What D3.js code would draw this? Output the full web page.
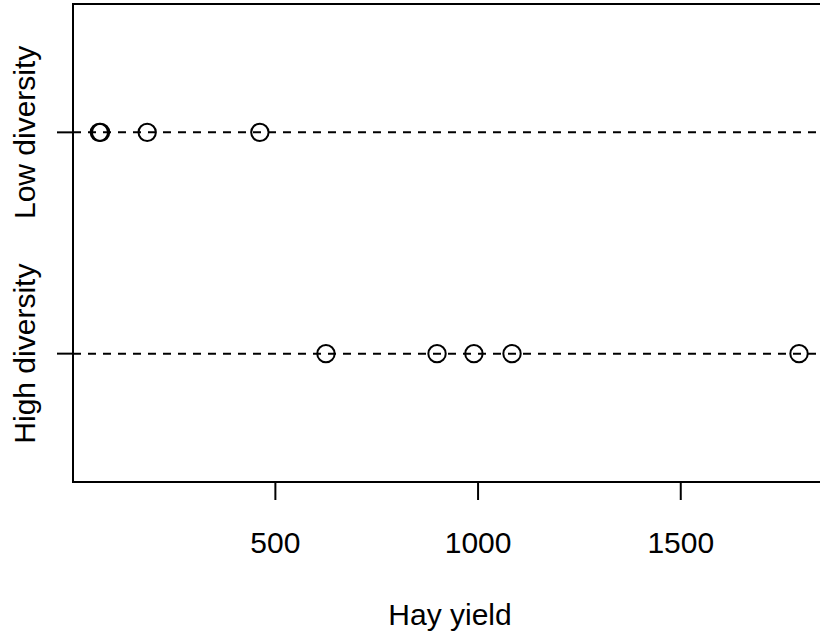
<!DOCTYPE html>
<html>
<head>
<meta charset="utf-8">
<script src="https://cdn.jsdelivr.net/npm/d3@7"></script>
<style>
  body { margin: 0; background: #fff; }
  text { font-family: "Liberation Sans", Arial, sans-serif; fill: #000; }
</style>
</head>
<body>
<div class="canvas"></div>
<script>
// groups, bottom to top
var groups = ['High diversity', 'Low diversity'];
var highYield = [626, 900, 991, 1085, 1793];
var lowYield = [67, 70, 185, 463];
var xTicks = [500, 1000, 1500];
var xLabel = 'Hay yield';

var width = 820;
var height = 640;
// plot region (right edge runs past the window, as in the original)
var plotLeft = 73, plotRight = 827, plotTop = 4, plotBottom = 482;

var svg = d3.select('.canvas')
  .append('svg')
  .attr('width', width)
  .attr('height', height);

var xscale = d3.scaleLinear()
  .domain([2, 1862])
  .range([plotLeft, plotRight]);

// group i sits at i+1, R style 0.5..n+0.5 padded 4%
var yscale = d3.scaleLinear()
  .domain([0.42, 2.58])
  .range([plotBottom, plotTop]);

var rows = [
  { name: groups[0], pos: 1, values: highYield },
  { name: groups[1], pos: 2, values: lowYield }
];

// dashed guide lines across the plot
svg.append('g')
  .selectAll('line')
  .data(rows)
  .enter()
  .append('line')
  .attr('x1', plotLeft)
  .attr('x2', plotRight)
  .attr('y1', function(d) { return yscale(d.pos); })
  .attr('y2', function(d) { return yscale(d.pos); })
  .attr('stroke', '#000')
  .attr('stroke-width', 2)
  .attr('stroke-dasharray', '8,7');

// points
rows.forEach(function(r) {
  svg.append('g')
    .selectAll('circle')
    .data(r.values)
    .enter()
    .append('circle')
    .attr('cx', function(d) { return xscale(d); })
    .attr('cy', yscale(r.pos))
    .attr('r', 8.7)
    .attr('fill', 'none')
    .attr('stroke', '#000')
    .attr('stroke-width', 2);
});

// box
svg.append('rect')
  .attr('x', plotLeft)
  .attr('y', plotTop)
  .attr('width', plotRight - plotLeft)
  .attr('height', plotBottom - plotTop)
  .attr('fill', 'none')
  .attr('stroke', '#000')
  .attr('stroke-width', 2);

// x axis
var xaxis = d3.axisBottom(xscale)
  .tickValues(xTicks)
  .tickSize(18)
  .tickFormat(d3.format('d'));

var gx = svg.append('g')
  .attr('transform', 'translate(0,' + plotBottom + ')')
  .call(xaxis);
gx.select('.domain').remove();
gx.selectAll('line').attr('stroke', '#000').attr('stroke-width', 2);
gx.selectAll('text')
  .attr('font-size', 30)
  .attr('font-family', '"Liberation Sans", Arial, sans-serif')
  .attr('dy', null)
  .attr('y', 71);

// y axis
var yaxis = d3.axisLeft(yscale)
  .tickValues(rows.map(function(d) { return d.pos; }))
  .tickSize(16)
  .tickFormat(function(d) { return groups[d - 1]; });

var gy = svg.append('g')
  .attr('transform', 'translate(' + plotLeft + ',0)')
  .call(yaxis);
gy.select('.domain').remove();
gy.selectAll('line').attr('stroke', '#000').attr('stroke-width', 2);
gy.selectAll('text')
  .attr('font-size', 30)
  .attr('font-family', '"Liberation Sans", Arial, sans-serif')
  .attr('text-anchor', 'middle')
  .attr('dy', null)
  .attr('x', 0)
  .attr('y', 0)
  .attr('transform', function(d) {
    return 'translate(' + (35 - plotLeft) + ',' + yscale(d) + ') rotate(-90)';
  });
// the tick group already carries the y offset, so undo it on the label
gy.selectAll('.tick')
  .attr('transform', 'translate(0,0)');
gy.selectAll('.tick line')
  .attr('y1', function(d) { return yscale(d); })
  .attr('y2', function(d) { return yscale(d); });

// axis title
svg.append('text')
  .attr('x', (plotLeft + plotRight) / 2)
  .attr('y', 625)
  .attr('text-anchor', 'middle')
  .attr('font-size', 30)
  .text(xLabel);
</script>
</body>
</html>
